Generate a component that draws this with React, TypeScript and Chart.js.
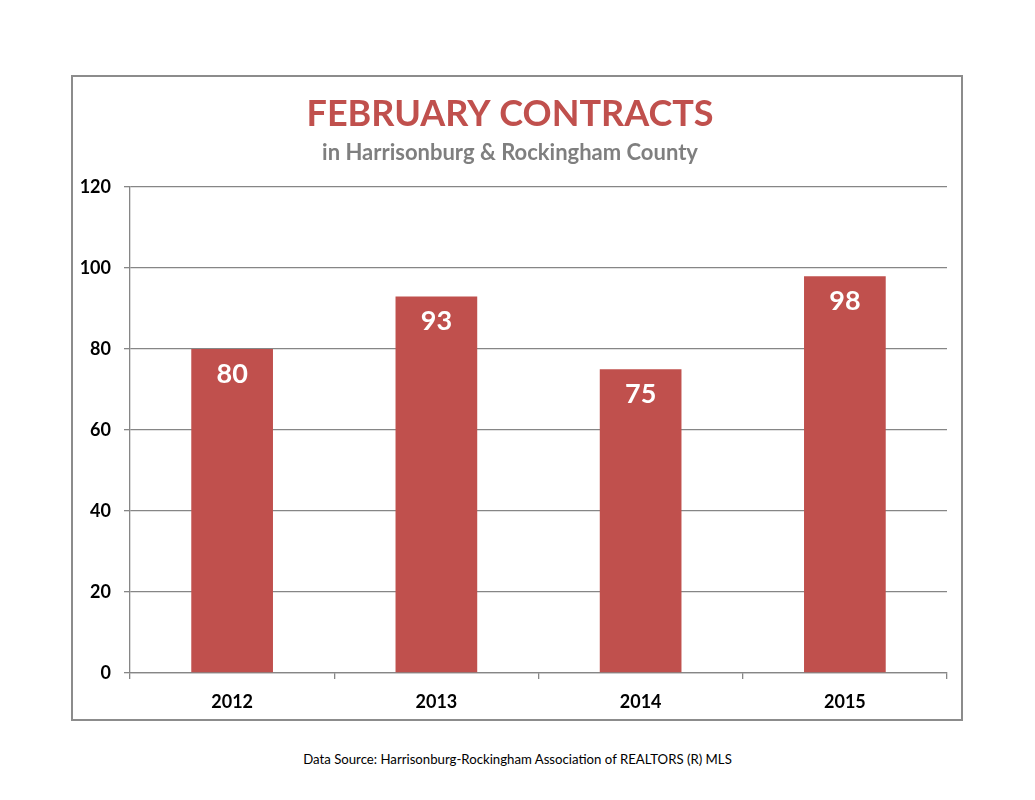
import { Chart, registerables } from "chart.js";
import React, { useEffect, useRef } from "react";

Chart.register(...registerables);

// chart data
const years = ["2012", "2013", "2014", "2015"];
const contracts = [80, 93, 75, 98];
const yTicks = [0, 20, 40, 60, 80, 100, 120];

const RED = "#C0504D";
const GRID = "#868686";
const FONT = "Lato, 'Open Sans', sans-serif";

// white value labels inside the top of each bar
const barLabels = {
  id: "barLabels",
  afterDatasetsDraw(chart: any) {
    const ctx = chart.ctx;
    const meta = chart.getDatasetMeta(0);
    ctx.save();
    ctx.fillStyle = "#ffffff";
    ctx.font = `bold 27px ${FONT}`;
    ctx.textAlign = "center";
    ctx.textBaseline = "middle";
    meta.data.forEach((bar: any, i: number) => {
      ctx.fillText(String(contracts[i]), bar.x, bar.y + 25);
    });
    ctx.restore();
  },
};

const ContractsChart: React.FC = () => {
  const chartRef = useRef<HTMLCanvasElement>(null);

  useEffect(() => {
    if (!chartRef.current) return;
    const ctx = chartRef.current.getContext("2d");
    if (!ctx) return;
    const chart = new Chart(ctx, {
      type: "bar",
      data: {
        labels: years,
        datasets: [
          {
            label: "Contracts",
            data: contracts,
            backgroundColor: RED,
            borderWidth: 0,
            barPercentage: 0.8,
            categoryPercentage: 0.5,
          },
        ],
      },
      options: {
        animation: false,
        responsive: true,
        maintainAspectRatio: false,
        layout: { padding: { left: 0, right: 14, top: 0, bottom: 0 } },
        scales: {
          x: {
            offset: true,
            grid: {
              display: true,
              offset: true,
              drawOnChartArea: false,
              drawTicks: true,
              tickLength: 6,
              color: GRID,
              lineWidth: 1.3,
            },
            border: { display: true, color: GRID, width: 1.3 },
            ticks: {
              color: "#000000",
              padding: 12,
              font: { family: FONT, size: 18, weight: "bold" },
            },
            afterFit: (scale: any) => {
              scale.height = 46;
            },
          },
          y: {
            min: 0,
            max: 120,
            afterBuildTicks: (scale: any) => {
              scale.ticks = yTicks.map((v) => ({ value: v }));
            },
            grid: {
              display: true,
              drawTicks: true,
              tickLength: 6,
              color: GRID,
              lineWidth: 1.3,
            },
            border: { display: true, color: GRID, width: 1.3 },
            ticks: {
              color: "#000000",
              padding: 13,
              font: { family: FONT, size: 18, weight: "bold" },
            },
            afterFit: (scale: any) => {
              scale.width = 57;
            },
          },
        },
        plugins: {
          legend: { display: false },
          tooltip: { enabled: false },
          title: {
            display: true,
            text: "FEBRUARY CONTRACTS",
            color: RED,
            font: { family: FONT, size: 36, weight: "bold", lineHeight: 1.2 },
            padding: { top: 16, bottom: 0 },
          },
          subtitle: {
            display: true,
            text: "in Harrisonburg & Rockingham County",
            color: "#7F7F7F",
            font: { family: FONT, size: 22, weight: "bold", lineHeight: 1.2 },
            padding: { top: 3.5, bottom: 21 },
          },
        },
      },
      plugins: [barLabels],
    });
    return () => {
      chart.destroy();
    };
  }, []);

  return <canvas ref={chartRef} />;
};

export default function App() {
  return (
    <div
      style={{
        position: "absolute",
        left: 0,
        top: 0,
        width: 1035,
        height: 800,
        background: "#ffffff",
      }}
    >
      <div
        style={{
          position: "absolute",
          left: 71,
          top: 75,
          width: 892,
          height: 646,
          boxSizing: "border-box",
          border: "2px solid #8c8c8c",
        }}
      >
        <div style={{ position: "relative", width: 888, height: 642 }}>
          <ContractsChart />
        </div>
      </div>
      <div
        style={{
          position: "absolute",
          left: 0,
          width: 1035,
          top: 751,
          textAlign: "center",
          fontFamily: FONT,
          fontSize: 13.2,
          color: "#000000",
        }}
      >
        Data Source: Harrisonburg-Rockingham Association of REALTORS (R) MLS
      </div>
    </div>
  );
}
